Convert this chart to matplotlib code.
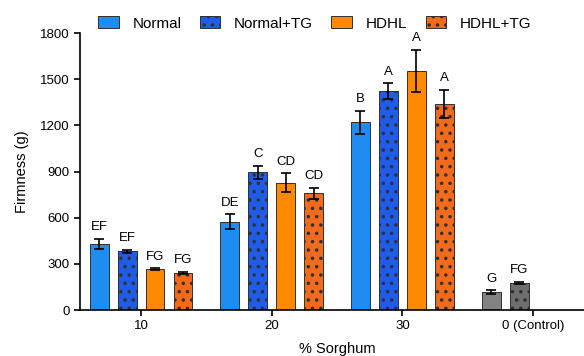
import matplotlib
matplotlib.use("Agg")
import matplotlib.pyplot as plt
import numpy as np

plt.rcParams["font.family"] = ["Liberation Sans", "DejaVu Sans"]
plt.rcParams["hatch.linewidth"] = 1.3

groups = ["10", "20", "30", "0 (Control)"]
series = ["Normal", "Normal+TG", "HDHL", "HDHL+TG"]

normal = [430, 575, 1220]
normal_err = [35, 47, 75]
normal_sig = ["EF", "DE", "B"]

normal_tg = [382, 897, 1425]
normal_tg_err = [10, 42, 50]
normal_tg_sig = ["EF", "C", "A"]

hdhl = [265, 828, 1555]
hdhl_err = [7, 60, 135]
hdhl_sig = ["FG", "CD", "A"]

hdhl_tg = [242, 758, 1340]
hdhl_tg_err = [7, 38, 92]
hdhl_tg_sig = ["FG", "CD", "A"]

control = [117, 176]
control_err = [12, 8]
control_sig = ["G", "FG"]

colors = ["#1e8cf0", "#1f5ce8", "#ff8a00", "#f26a1b"]
hatches = ["", "..", "", ".."]
control_colors = ["#828282", "#6e6e6e"]

fig = plt.figure(figsize=(5.84, 3.56), dpi=100)
ax = fig.add_axes([0.137, 0.129, 0.863, 0.778])

width = 0.145
step = 0.214
offsets = (np.arange(4) - 1.5) * step
x = np.arange(3)


def draw(xpos, vals, errs, sig, color, hatch, label=None):
    bars = ax.bar(xpos, vals, width, color=color, edgecolor="#303030",
                  linewidth=0.7, hatch=hatch, label=label, zorder=2)
    ax.errorbar(xpos, vals, yerr=errs, fmt="none", ecolor="black",
                elinewidth=1.2, capsize=3.5, capthick=1.2, zorder=3)
    for xi, v, e, s in zip(xpos, vals, errs, sig):
        ax.annotate(s, (xi, v + e), xytext=(0, 4), textcoords="offset points",
                    ha="center", va="bottom", fontsize=9.5)
    return bars


all_vals = [normal, normal_tg, hdhl, hdhl_tg]
all_errs = [normal_err, normal_tg_err, hdhl_err, hdhl_tg_err]
all_sig = [normal_sig, normal_tg_sig, hdhl_sig, hdhl_tg_sig]
for i in range(4):
    draw(x + offsets[i], all_vals[i], all_errs[i], all_sig[i],
         colors[i], hatches[i], label=series[i])

# control group sits in the first two slots
for i in range(2):
    draw([3 + offsets[i]], [control[i]], [control_err[i]], [control_sig[i]],
         control_colors[i], hatches[i])

ax.set_xlim(-0.467, 3.39)
ax.set_ylim(0, 1800)
ax.set_yticks(np.arange(0, 1801, 300))
ax.set_xticks(np.arange(4))
ax.set_xticklabels(groups)
ax.tick_params(labelsize=9.5, width=1.2, length=4)
ax.spines["top"].set_visible(False)
ax.spines["right"].set_visible(False)
for sp in ("left", "bottom"):
    ax.spines[sp].set_linewidth(1.2)

ax.set_ylabel("Firmness (g)", fontsize=10.5, labelpad=8)
ax.set_xlabel("% Sorghum", fontsize=10.5)
ax.xaxis.set_label_coords(0.51, -0.115)

fig.legend(loc="center", bbox_to_anchor=(0.539, 0.934), ncol=4, frameon=False,
           fontsize=11, handlelength=1.35, handleheight=0.8,
           columnspacing=1.2, handletextpad=0.9)

fig.savefig("out.png", dpi=100)
